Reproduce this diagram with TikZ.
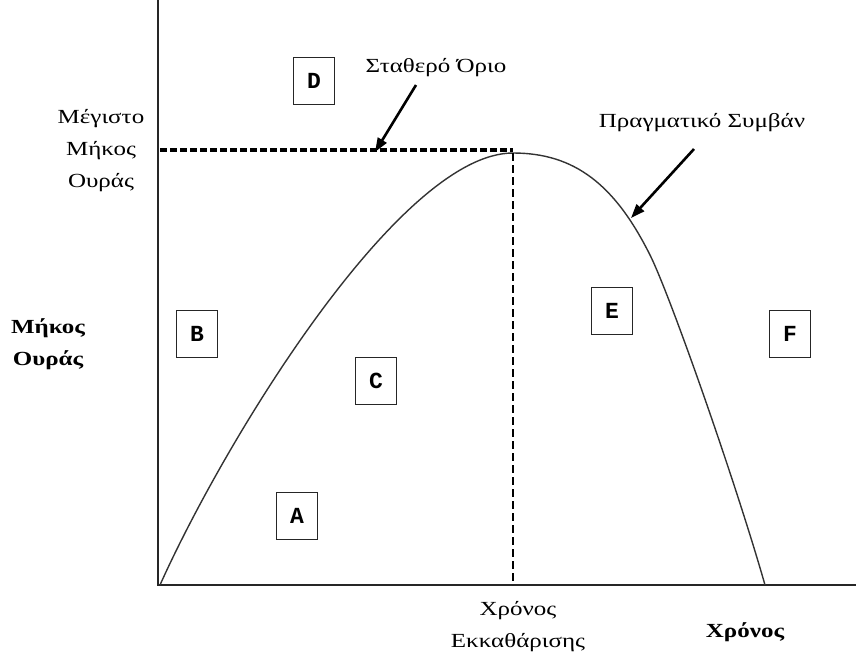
\documentclass[tikz,border=0pt]{standalone}
\usepackage{fontspec}
\setmainfont[FakeStretch=1.25]{Liberation Serif}
\newfontfamily\boxfont{Liberation Mono}
\usetikzlibrary{arrows.meta}
\begin{document}
\begin{tikzpicture}[x=1pt,y=-1pt,
  axis/.style={line width=2pt,draw=black!85},
  queue/.style={line width=1.4pt,draw=black!80},
  limitline/.style={line width=3.4pt,dash pattern=on 7pt off 3pt},
  clearline/.style={line width=1.4pt,dash pattern=on 8pt off 4pt},
  pointer/.style={line width=2.6pt,-{Triangle[length=14pt,width=10pt]}},
  region/.style={draw=black!85,line width=1.8pt,minimum width=41pt,minimum height=47pt,
                 inner sep=0pt,font=\boxfont\bfseries\fontsize{23}{23}\selectfont},
  lbl/.style={font=\fontsize{20}{32}\selectfont,align=center,inner sep=0pt},
  boldlbl/.style={font=\bfseries\fontsize{20}{32}\selectfont,align=center,inner sep=0pt}]
  \useasboundingbox (0,0) rectangle (856,657);

  % axes
  \coordinate (O) at (158,585);
  \coordinate (ytop) at (158,0);
  \coordinate (xend) at (856,585);
  \draw[axis] (ytop) -- (O) -- (xend);

  % queue length curve: rise to the peak, then the fall back to zero
  \coordinate (start) at (160,585);
  \coordinate (peak) at (513,153);
  \coordinate (bend) at (650,255);
  \coordinate (finish) at (765,585);
  \draw[queue] (start) .. controls (225,440) and (400,153) .. (peak)
               .. controls (575,153) and (615,185) .. (bend)
               .. controls (670,295) and (735,480) .. (finish);

  % fixed limit and clearance time
  \coordinate (limstart) at (160,150);
  \coordinate (peaktop) at (513,150);
  \coordinate (peakfoot) at (513,585);
  \draw[limitline] (limstart) -- (peaktop);
  \draw[clearline] (peak) -- (peakfoot);

  % labels
  \node[lbl] (maxlen) at (101,151) {Μέγιστο\\Μήκος\\Ουράς};
  \node[boldlbl] (ylabel) at (48,344) {Μήκος\\Ουράς};
  \node[lbl] (cleartime) at (518,627) {Χρόνος\\Εκκαθάρισης};
  \node[boldlbl] (xlabel) at (745,632) {Χρόνος};
  \node[lbl] (fixed) at (436,68) {Σταθερό Όριο};
  \node[lbl] (actual) at (702,123) {Πραγματικό Συμβάν};

  % pointers
  \coordinate (fixedtail) at (416,85);
  \coordinate (fixedtip) at (375,152);
  \coordinate (actualtail) at (694,149);
  \coordinate (actualtip) at (631,218);
  \draw[pointer] (fixedtail) -- (fixedtip);
  \draw[pointer] (actualtail) -- (actualtip);

  % region markers
  \node[region] (A) at (297,516) {A};
  \node[region] (B) at (197,334) {B};
  \node[region] (C) at (376,381) {C};
  \node[region] (D) at (314,81) {D};
  \node[region] (E) at (612,311) {E};
  \node[region] (F) at (790,334) {F};
\end{tikzpicture}
\end{document}
